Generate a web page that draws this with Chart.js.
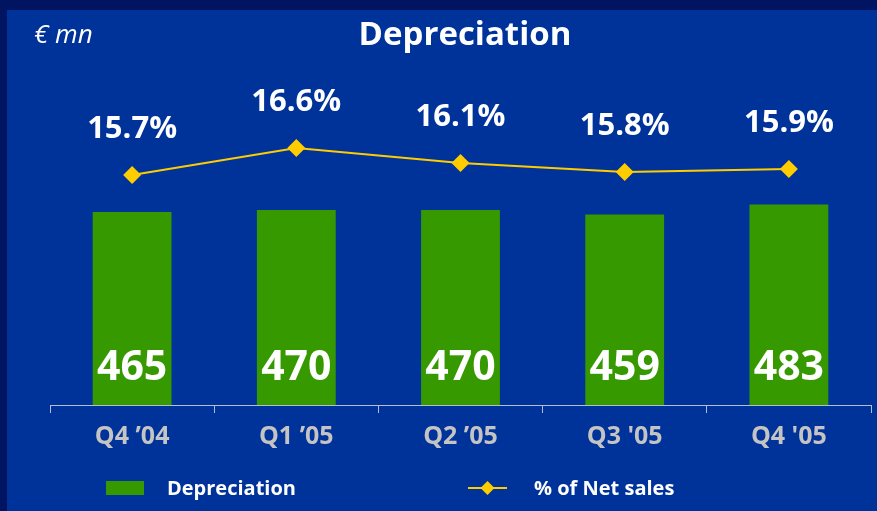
<!DOCTYPE html>
<html>
<head>
<meta charset="utf-8">
<script src="https://cdn.jsdelivr.net/npm/chart.js@4.4.0/dist/chart.umd.min.js"></script>
<style>
  html, body { margin: 0; padding: 0; background: #001462; }
  #wrap { width: 877px; height: 511px; }
</style>
</head>
<body>
<div id="wrap"><canvas id="deprChart" width="877" height="511"></canvas></div>
<script>
// Quarterly depreciation (€ mn) and its share of net sales
const quarters = ['Q4 ’04', 'Q1 ’05', 'Q2 ’05', "Q3 '05", "Q4 '05"];
const depreciation = [465, 470, 470, 459, 483];
const pctOfNetSales = [15.7, 16.6, 16.1, 15.8, 15.9];

const FONT = '"Open Sans", "DejaVu Sans", sans-serif';
const BG_OUTER = '#001462';
const BG_INNER = '#003399';
const BAR_GREEN = '#369900';
const LINE_YELLOW = '#FFCC00';

// Slide background: dark frame on top/left, blue panel
const slideBackground = {
  id: 'slideBackground',
  beforeDraw(chart) {
    const ctx = chart.ctx;
    ctx.save();
    ctx.fillStyle = BG_OUTER;
    ctx.fillRect(0, 0, chart.width, chart.height);
    ctx.fillStyle = BG_INNER;
    ctx.fillRect(7, 10, chart.width - 7, chart.height - 10);
    ctx.restore();
  },
};

// Value labels: totals inside bars, percentages above the line points
const valueLabels = {
  id: 'valueLabels',
  afterDatasetsDraw(chart) {
    const ctx = chart.ctx;
    const bottom = chart.chartArea.bottom;
    ctx.save();
    ctx.fillStyle = '#ffffff';
    ctx.textAlign = 'center';
    ctx.textBaseline = 'middle';

    const barMeta = chart.getDatasetMeta(1);
    ctx.font = 'bold 41px ' + FONT;
    barMeta.data.forEach((bar, i) => {
      ctx.fillText(String(depreciation[i]), bar.x, bottom - 37);
    });

    const lineMeta = chart.getDatasetMeta(0);
    ctx.font = 'bold 31px ' + FONT;
    lineMeta.data.forEach((pt, i) => {
      ctx.fillText(pctOfNetSales[i].toFixed(1) + '%', pt.x, pt.y - 46);
    });
    ctx.restore();
  },
};

// Title, unit note and legend row
const slideText = {
  id: 'slideText',
  afterDraw(chart) {
    const ctx = chart.ctx;
    ctx.save();
    ctx.fillStyle = '#ffffff';
    ctx.textBaseline = 'middle';

    ctx.textAlign = 'center';
    ctx.font = 'bold 33px ' + FONT;
    ctx.fillText('Depreciation', 465, 36);

    ctx.textAlign = 'left';
    ctx.font = 'italic 26px ' + FONT;
    ctx.fillText('€ mn', 34, 36);

    // legend: bar swatch
    ctx.fillStyle = BAR_GREEN;
    ctx.fillRect(106, 481, 38, 14);
    ctx.fillStyle = '#ffffff';
    ctx.font = 'bold 20px ' + FONT;
    ctx.fillText(chart.data.datasets[1].label, 167, 489);

    // legend: line with diamond
    ctx.strokeStyle = LINE_YELLOW;
    ctx.lineWidth = 2;
    ctx.beginPath();
    ctx.moveTo(468, 488);
    ctx.lineTo(507, 488);
    ctx.stroke();
    ctx.fillStyle = LINE_YELLOW;
    ctx.beginPath();
    ctx.moveTo(487.5 - 7, 488);
    ctx.lineTo(487.5, 488 - 7);
    ctx.lineTo(487.5 + 7, 488);
    ctx.lineTo(487.5, 488 + 7);
    ctx.closePath();
    ctx.fill();
    ctx.fillStyle = '#ffffff';
    ctx.fillText(chart.data.datasets[0].label, 534, 489);
    ctx.restore();
  },
};

new Chart(document.getElementById('deprChart'), {
  data: {
    labels: quarters,
    datasets: [
      {
        type: 'line',
        label: '% of Net sales',
        data: pctOfNetSales,
        yAxisID: 'y1',
        borderColor: LINE_YELLOW,
        borderWidth: 2,
        pointStyle: 'rectRot',
        pointRadius: 9,
        pointBackgroundColor: LINE_YELLOW,
        pointBorderWidth: 0,
        tension: 0,
        order: 0,
      },
      {
        type: 'bar',
        label: 'Depreciation',
        data: depreciation,
        yAxisID: 'y',
        backgroundColor: BAR_GREEN,
        borderWidth: 0,
        categoryPercentage: 1,
        barPercentage: 0.48,
        order: 1,
      },
    ],
  },
  options: {
    responsive: false,
    animation: false,
    layout: { autoPadding: false, padding: { top: 100, left: 50, right: 6, bottom: 0 } },
    plugins: {
      legend: { display: false },
      tooltip: { enabled: false },
    },
    scales: {
      x: {
        offset: true,
        grid: {
          display: true,
          offset: true,
          drawOnChartArea: false,
          drawTicks: true,
          tickLength: 8,
          color: '#b8bcd0',
        },
        border: { display: true, color: '#b8bcd0', width: 1 },
        ticks: {
          color: '#c4c4c4',
          font: { family: FONT, size: 25, weight: 'bold' },
          padding: 9,
        },
        afterFit(scale) {
          scale.height = 106;
        },
      },
      y: { display: false, min: 0, max: 735 },
      y1: { display: false, min: 8.03, max: 18.2 },
    },
  },
  plugins: [slideBackground, valueLabels, slideText],
});
</script>
</body>
</html>
